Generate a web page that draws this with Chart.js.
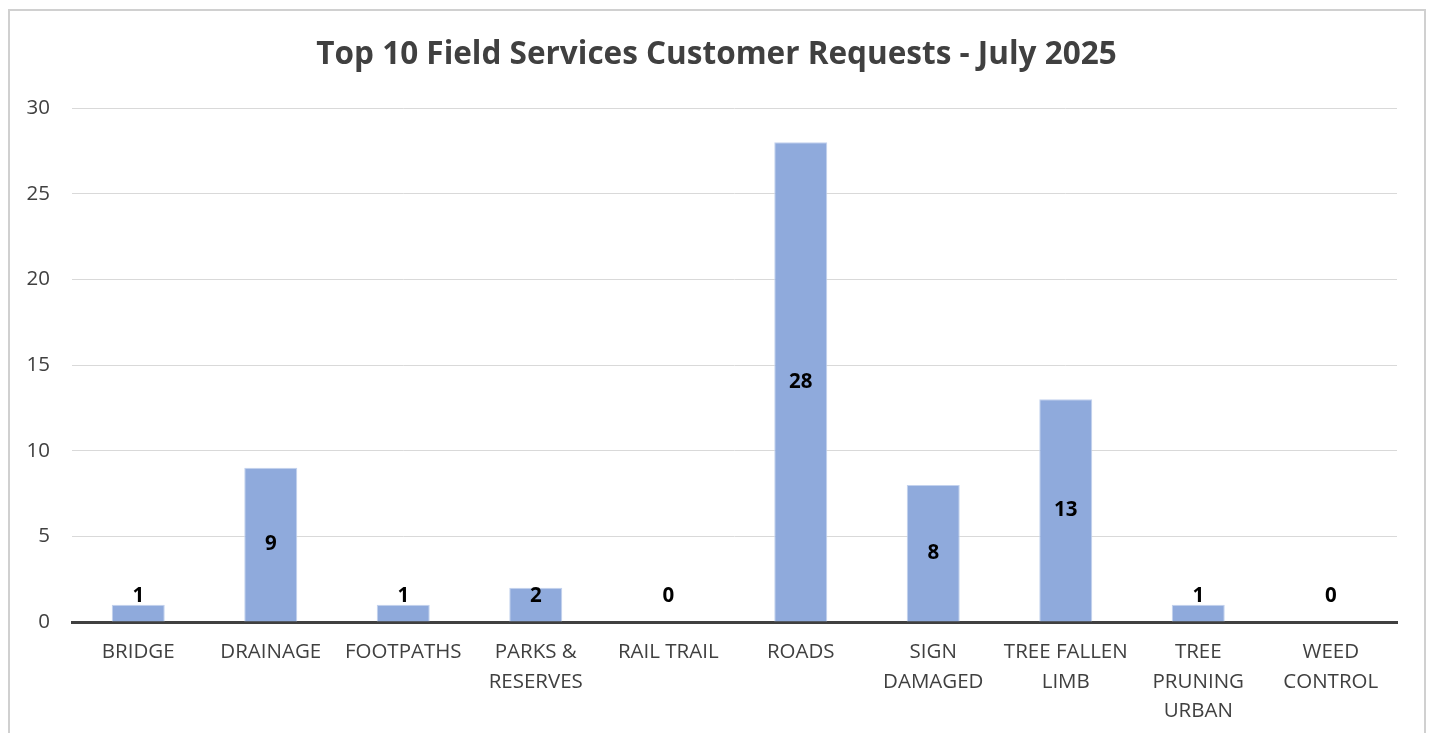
<!DOCTYPE html>
<html>
<head>
<meta charset="utf-8">
<script src="https://cdn.jsdelivr.net/npm/chart.js@4.4.1/dist/chart.umd.min.js"></script>
<style>
  html, body { margin: 0; padding: 0; background: #fff; overflow: hidden; }
  #frame { position: absolute; left: 8px; top: 9px; width: 1414px; height: 800px; border: 2px solid #d0d0d0; }
  #wrap { position: absolute; left: 0; top: 0; width: 1433px; height: 733px; }
</style>
</head>
<body>
<div id="frame"></div>
<div id="wrap"><canvas id="requestsChart"></canvas></div>
<script>
// --- data ---
const categories = ['BRIDGE', 'DRAINAGE', 'FOOTPATHS', ['PARKS &', 'RESERVES'], 'RAIL TRAIL', 'ROADS',
    ['SIGN', 'DAMAGED'], ['TREE FALLEN', 'LIMB'], ['TREE', 'PRUNING', 'URBAN'], ['WEED', 'CONTROL']];
const requestCounts = [1, 9, 1, 2, 0, 28, 8, 13, 1, 0];
const yTicks = [0, 5, 10, 15, 20, 25, 30];
const chartTitle = 'Top 10 Field Services Customer Requests - July 2025';

const textColor = '#404040';
const fontFamily = "'Open Sans', 'Liberation Sans', sans-serif";

// title centred on the whole canvas (plot area is not symmetric)
const centredTitle = {
    id: 'centredTitle',
    afterDraw(chart) {
        const ctx = chart.ctx;
        ctx.save();
        ctx.font = "bold 31.5px " + fontFamily;
        ctx.fillStyle = '#404040';
        ctx.textAlign = 'center';
        ctx.textBaseline = 'middle';
        ctx.fillText(chartTitle, chart.width / 2, 55);
        ctx.restore();
    }
};

// value labels in the middle of the bar, kept clear of the axis for short bars
const barLabels = {
    id: 'barLabels',
    afterDatasetsDraw(chart) {
        const ctx = chart.ctx;
        const meta = chart.getDatasetMeta(0);
        const zeroY = chart.scales.y.getPixelForValue(0);
        ctx.save();
        ctx.font = "bold 20.5px " + fontFamily;
        ctx.fillStyle = '#000';
        ctx.textAlign = 'center';
        ctx.textBaseline = 'middle';
        meta.data.forEach((bar, i) => {
            const mid = (bar.y + bar.base) / 2;
            ctx.fillText(requestCounts[i], bar.x, Math.min(mid, zeroY - 26));
        });
        ctx.restore();
    }
};

new Chart(document.getElementById('requestsChart'), {
    type: 'bar',
    data: {
        labels: categories,
        datasets: [{
            data: requestCounts,
            backgroundColor: '#8faadc',
            borderColor: '#c3d2ee',
            borderWidth: 1,
            categoryPercentage: 1,
            barPercentage: 0.4
        }]
    },
    options: {
        responsive: true,
        maintainAspectRatio: false,
        animation: false,
        layout: { padding: { left: 10, right: 36, top: 108, bottom: 0 } },
        plugins: {
            legend: { display: false },
            tooltip: { enabled: false },
            title: { display: false }
        },
        scales: {
            x: {
                grid: { display: false, drawTicks: false },
                border: { display: true, color: '#404040', width: 3 },
                ticks: {
                    color: textColor,
                    font: { family: fontFamily, size: 20.5, lineHeight: 1.42 },
                    padding: 16,
                    maxRotation: 0,
                    autoSkip: false
                },
                afterFit(scale) { scale.height = 111; }
            },
            y: {
                min: 0,
                max: 30,
                afterBuildTicks(scale) { scale.ticks = yTicks.map(v => ({ value: v })); },
                grid: { color: '#d9d9d9', lineWidth: 1, drawTicks: false },
                border: { display: false },
                ticks: {
                    color: textColor,
                    font: { family: fontFamily, size: 20.5 },
                    padding: 22
                },
                afterFit(scale) { scale.width = 62; }
            }
        }
    },
    plugins: [barLabels, centredTitle]
});
</script>
</body>
</html>
